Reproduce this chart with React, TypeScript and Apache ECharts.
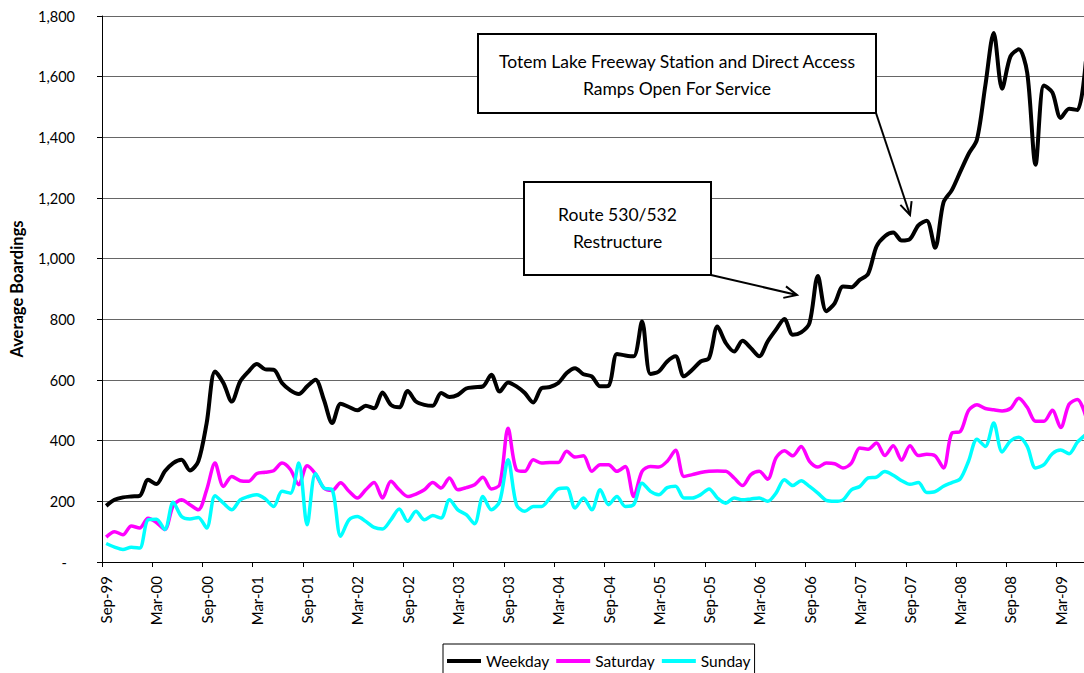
import React, { useEffect, useRef } from 'react';
import * as echarts from 'echarts';

const categories = [
  'Sep-99', 'Oct-99', 'Nov-99', 'Dec-99',
  'Jan-00', 'Feb-00', 'Mar-00', 'Apr-00', 'May-00', 'Jun-00', 'Jul-00', 'Aug-00', 'Sep-00', 'Oct-00', 'Nov-00', 'Dec-00',
  'Jan-01', 'Feb-01', 'Mar-01', 'Apr-01', 'May-01', 'Jun-01', 'Jul-01', 'Aug-01', 'Sep-01', 'Oct-01', 'Nov-01', 'Dec-01',
  'Jan-02', 'Feb-02', 'Mar-02', 'Apr-02', 'May-02', 'Jun-02', 'Jul-02', 'Aug-02', 'Sep-02', 'Oct-02', 'Nov-02', 'Dec-02',
  'Jan-03', 'Feb-03', 'Mar-03', 'Apr-03', 'May-03', 'Jun-03', 'Jul-03', 'Aug-03', 'Sep-03', 'Oct-03', 'Nov-03', 'Dec-03',
  'Jan-04', 'Feb-04', 'Mar-04', 'Apr-04', 'May-04', 'Jun-04', 'Jul-04', 'Aug-04', 'Sep-04', 'Oct-04', 'Nov-04', 'Dec-04',
  'Jan-05', 'Feb-05', 'Mar-05', 'Apr-05', 'May-05', 'Jun-05', 'Jul-05', 'Aug-05', 'Sep-05', 'Oct-05', 'Nov-05', 'Dec-05',
  'Jan-06', 'Feb-06', 'Mar-06', 'Apr-06', 'May-06', 'Jun-06', 'Jul-06', 'Aug-06', 'Sep-06', 'Oct-06', 'Nov-06', 'Dec-06',
  'Jan-07', 'Feb-07', 'Mar-07', 'Apr-07', 'May-07', 'Jun-07', 'Jul-07', 'Aug-07', 'Sep-07', 'Oct-07', 'Nov-07', 'Dec-07',
  'Jan-08', 'Feb-08', 'Mar-08', 'Apr-08', 'May-08', 'Jun-08', 'Jul-08', 'Aug-08', 'Sep-08', 'Oct-08', 'Nov-08', 'Dec-08',
  'Jan-09', 'Feb-09', 'Mar-09', 'Apr-09', 'May-09', 'Jun-09',
];

const weekday = [
  185, 205, 213, 216,
  218, 271, 257, 299, 326, 337, 302, 332, 458, 628, 590, 529,
  595, 628, 653, 635, 634, 590, 566, 554, 579, 601, 535, 458,
  522, 511, 500, 515, 507, 559, 518, 510, 564, 529, 518, 515,
  557, 544, 551, 572, 576, 579, 617, 562, 592, 579, 557, 526,
  573, 577, 590, 623, 639, 619, 612, 579, 581, 686, 681, 678,
  793, 620, 628, 661, 678, 612, 634, 661, 672, 776, 722, 694,
  729, 705, 678, 727, 766, 801, 749, 757, 788, 943, 827, 853,
  908, 906, 930, 950, 1040, 1074, 1086, 1060, 1065, 1110, 1125, 1036,
  1185, 1226, 1286, 1345, 1393, 1571, 1744, 1560, 1667, 1690, 1613, 1310,
  1571, 1548, 1464, 1494, 1490, 1650,
];

const saturday = [
  82, 100, 90, 119,
  112, 144, 130, 107, 185, 205, 189, 172, 238, 326, 249, 282,
  268, 266, 292, 296, 301, 326, 305, 255, 317, 290, 244, 236,
  261, 233, 211, 238, 262, 211, 266, 238, 216, 224, 238, 262,
  244, 277, 238, 245, 255, 279, 241, 255, 441, 304, 299, 337,
  326, 328, 328, 365, 346, 350, 299, 321, 321, 299, 315, 216,
  299, 315, 313, 332, 368, 282, 288, 295, 299, 300, 299, 277,
  252, 288, 299, 273, 343, 367, 350, 381, 332, 313, 326, 324,
  310, 326, 376, 372, 392, 351, 383, 336, 383, 351, 355, 350,
  310, 425, 430, 500, 518, 506, 502, 498, 506, 540, 510, 464,
  464, 500, 443, 520, 536, 480,
];

const sunday = [
  61, 49, 41, 49,
  46, 139, 141, 107, 197, 150, 142, 147, 112, 218, 194, 172,
  205, 216, 222, 208, 183, 233, 227, 326, 123, 292, 244, 238,
  85, 139, 150, 134, 114, 109, 139, 175, 134, 167, 139, 153,
  145, 205, 172, 156, 126, 216, 172, 200, 337, 189, 167, 183,
  183, 211, 241, 244, 178, 211, 172, 238, 189, 216, 183, 189,
  260, 233, 222, 245, 250, 211, 211, 222, 241, 211, 194, 211,
  205, 208, 211, 200, 227, 271, 252, 268, 249, 227, 203, 200,
  205, 238, 249, 277, 280, 298, 286, 268, 256, 262, 229, 232,
  250, 262, 274, 333, 405, 381, 458, 363, 399, 411, 381, 310,
  321, 357, 369, 357, 395, 420,
];

const yTicks = [0, 200, 400, 600, 800, 1000, 1200, 1400, 1600, 1800];

const seriesNames = ['Weekday', 'Saturday', 'Sunday'];
const seriesColors = ['#000000', '#FF00FF', '#00FFFF'];

const annotation1 = ['Totem Lake Freeway Station and Direct Access', 'Ramps Open For Service'];
const annotation2 = ['Route 530/532', 'Restructure'];

const FONT = 'Lato, "Open Sans", "DejaVu Sans", sans-serif';

function arrowHead(x1: number, y1: number, x2: number, y2: number, len: number, angDeg: number) {
  const dx = x2 - x1;
  const dy = y2 - y1;
  const L = Math.sqrt(dx * dx + dy * dy);
  const bx = -dx / L;
  const by = -dy / L;
  const a = (angDeg * Math.PI) / 180;
  const c = Math.cos(a);
  const s = Math.sin(a);
  const p1 = [x2 + len * (bx * c - by * s), y2 + len * (bx * s + by * c)];
  const p2 = [x2 + len * (bx * c + by * s), y2 + len * (-bx * s + by * c)];
  return [p1, [x2, y2], p2];
}

function textEl(text: string, x: number, y: number) {
  return {
    type: 'text',
    x,
    y,
    z: 101,
    style: {
      text,
      fontSize: 17.5,
      fontFamily: FONT,
      fill: '#000',
      align: 'center',
      verticalAlign: 'middle',
      textAlign: 'center',
      textVerticalAlign: 'middle',
    },
  };
}

function arrowEls(x1: number, y1: number, x2: number, y2: number) {
  return [
    {
      type: 'line',
      z: 100,
      shape: { x1, y1, x2, y2 },
      style: { stroke: '#000', lineWidth: 2 },
    },
    {
      type: 'polyline',
      z: 100,
      shape: { points: arrowHead(x1, y1, x2, y2, 14, 25) },
      style: { stroke: '#000', lineWidth: 2, fill: null },
    },
  ];
}

export default function App() {
  const ref = useRef<HTMLDivElement>(null);

  useEffect(() => {
    if (!ref.current) return;
    const chart = echarts.init(ref.current, undefined, { renderer: 'svg' });
    const seriesData = [weekday, saturday, sunday];
    const option = {
      animation: false,
      backgroundColor: '#ffffff',
      textStyle: { fontFamily: FONT },
      grid: { left: 100, right: 10, top: 16, bottom: 111, containLabel: false },
      xAxis: {
        type: 'category',
        data: categories,
        boundaryGap: true,
        axisLine: { show: true, lineStyle: { color: '#000', width: 1 } },
        axisTick: { show: true, interval: 5, length: 5, inside: false, lineStyle: { color: '#000' } },
        axisLabel: {
          interval: 5,
          rotate: 90,
          margin: 14,
          fontSize: 15,
          fontFamily: FONT,
          color: '#000',
        },
        splitLine: { show: false },
      },
      yAxis: {
        type: 'value',
        min: yTicks[0],
        max: yTicks[yTicks.length - 1],
        interval: 200,
        name: 'Average Boardings',
        nameLocation: 'middle',
        nameGap: 77,
        nameRotate: 90,
        nameTextStyle: { fontSize: 16.5, fontWeight: 'bold', fontFamily: FONT, color: '#000' },
        axisLine: { show: true, lineStyle: { color: '#000', width: 1 } },
        axisTick: { show: true, length: 5, inside: false, lineStyle: { color: '#000' } },
        axisLabel: {
          margin: 27,
          fontSize: 14.5,
          fontFamily: FONT,
          color: '#000',
          formatter: (v: number) => (v === 0 ? '{dash|-}' : v.toLocaleString('en-US')),
          rich: { dash: { padding: [0, 8, 0, 0], fontSize: 14.5, fontFamily: FONT, color: '#000' } },
        },
        splitLine: { show: true, lineStyle: { color: '#666', width: 1 } },
      },
      legend: {
        data: seriesNames,
        left: 443,
        top: 644,
        orient: 'horizontal',
        icon: 'rect',
        itemWidth: 34,
        itemHeight: 4,
        itemGap: 7,
        itemTextGap: 3,
        padding: [8, 4, 12, 4],
        borderColor: '#000',
        borderWidth: 1,
        borderRadius: 0,
        backgroundColor: '#fff',
        textStyle: { fontSize: 15.5, fontFamily: FONT, color: '#000', lineHeight: 18 },
      },
      series: seriesNames.map((name, k) => ({
        name,
        type: 'line',
        data: seriesData[k],
        smooth: 0.3,
        symbol: 'none',
        showSymbol: false,
        clip: true,
        color: seriesColors[k],
        itemStyle: { color: seriesColors[k] },
        lineStyle: { color: seriesColors[k], width: k === 0 ? 4 : 3.5 },
        z: 2 + k,
      })),
      graphic: [
        {
          type: 'rect',
          z: 100,
          shape: { x: 478, y: 34, width: 398, height: 79 },
          style: { fill: '#fff', stroke: '#000', lineWidth: 2 },
        },
        textEl(annotation1[0], 677, 61.5),
        textEl(annotation1[1], 677, 88),
        {
          type: 'rect',
          z: 100,
          shape: { x: 524, y: 182, width: 187, height: 93 },
          style: { fill: '#fff', stroke: '#000', lineWidth: 2 },
        },
        textEl(annotation2[0], 617.5, 214),
        textEl(annotation2[1], 617.5, 241.5),
        ...arrowEls(876, 113, 910, 215),
        ...arrowEls(711, 275, 797, 295),
      ],
    };
    chart.setOption(option as any);
    return () => chart.dispose();
  }, []);

  return (
    <div
      style={{
        position: 'fixed',
        left: 0,
        top: 0,
        width: 1084,
        height: 673,
        overflow: 'hidden',
        background: '#fff',
      }}
    >
      <div ref={ref} style={{ width: 1100, height: 673 }} />
    </div>
  );
}
